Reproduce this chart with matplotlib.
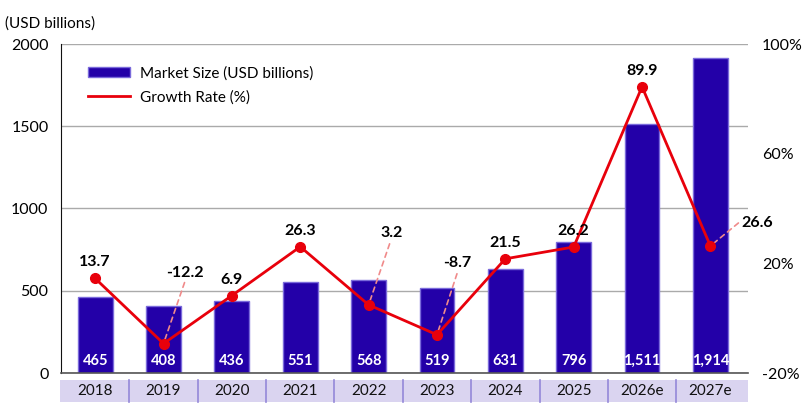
import matplotlib
matplotlib.use("Agg")
import matplotlib.pyplot as plt
import matplotlib.transforms as mtransforms
from matplotlib.patches import Rectangle
from matplotlib.lines import Line2D
import numpy as np

plt.rcParams['font.family'] = ['Lato', 'DejaVu Sans']

years = ['2018', '2019', '2020', '2021', '2022', '2023', '2024', '2025', '2026e', '2027e']
market_size = [465, 408, 436, 551, 568, 519, 631, 796, 1511, 1914]
size_labels = ['465', '408', '436', '551', '568', '519', '631', '796', '1,511', '1,914']
growth = [13.7, -12.2, 6.9, 26.3, 3.2, -8.7, 21.5, 26.2, 89.9, 26.6]
left_ticks = [0, 500, 1000, 1500, 2000]
right_tick_labels = ['-20%', '20%', '60%', '100%']

BAR = '#2300A8'
BAR_EDGE = '#7A6ADB'
RED = '#E8000B'
LEADER = '#F08A8A'

fig = plt.figure(figsize=(8.09, 4.11), dpi=100)
ax = fig.add_axes([61/809, 1-373/411, (748-61)/809, 329/411])
ax2 = ax.twinx()

x = np.arange(len(years))
ax.bar(x, market_size, width=0.51, color=BAR, edgecolor=BAR_EDGE, linewidth=1,
       label='Market Size (USD billions)', zorder=2)
ax.set_xlim(-0.5, 9.55)
ax.set_ylim(0, 2000)
ax.set_yticks(left_ticks)
ax.set_yticklabels([str(t) for t in left_ticks], fontsize=11.5)
ax.tick_params(axis='y', length=0, pad=9)
ax.set_xticks([])
ax.grid(axis='y', color='#AAAAAA', linewidth=1, zorder=0)
ax.set_axisbelow(True)
for s in ['top', 'right']:
    ax.spines[s].set_visible(False)
ax.spines['left'].set_color('#111111')
ax.spines['bottom'].set_color('#555555')
ax.spines['bottom'].set_linewidth(1.2)

for xi, lab in zip(x, size_labels):
    ax.annotate(lab, (xi, 0), xytext=(0, 12), textcoords='offset pixels',
                ha='center', va='center', color='white', fontsize=10.5,
                fontweight='bold', zorder=5)

# right axis
ax2.plot(x, growth, color=RED, linewidth=2, marker='o', markersize=7,
         label='Growth Rate (%)', zorder=4)
lo, hi = -23.9, 106.9
ax2.set_ylim(lo, hi)
ax2.set_yticks(np.linspace(lo, hi, 4))
ax2.set_yticklabels(right_tick_labels, fontsize=11.5)
ax2.tick_params(axis='y', length=0, pad=10)
for s in ['top', 'right', 'left', 'bottom']:
    ax2.spines[s].set_visible(False)

# growth labels: (line end offset, label offset, ha)
leader = {1: ((21, 61), (21, 71), 'center'),
          4: ((21, 61), (23, 72), 'center'),
          5: ((20, 61), (20, 72), 'center'),
          9: ((28, 23), (31, 23), 'left')}
for i, g in enumerate(growth):
    txt = f'{g}'
    if i in leader:
        (ex, ey), (tx, ty), ha = leader[i]
        ax2.annotate('', (x[i], g), xytext=(ex, ey), textcoords='offset pixels',
                     arrowprops=dict(arrowstyle='-', color=LEADER, linestyle=(0, (3, 2.5)),
                                     linewidth=1.2, shrinkA=0, shrinkB=0), zorder=3)
        ax2.annotate(txt, (x[i], g), xytext=(tx, ty), textcoords='offset pixels',
                     ha=ha, va='center', fontsize=11.5, fontweight='bold', zorder=6)
    else:
        ax2.annotate(txt, (x[i], g), xytext=(0, 16), textcoords='offset pixels',
                     ha='center', va='center', fontsize=11.5, fontweight='bold', zorder=6)

# category band
trans = mtransforms.blended_transform_factory(ax.transData, ax.transAxes)
y0 = (373-402)/329
h = (402-380)/329
ax.add_patch(Rectangle((-0.52, y0), 10.07, h, transform=trans, facecolor='#DAD4F0',
                       edgecolor='none', clip_on=False, zorder=1))
for b in np.arange(0.5, 9, 1):
    ax.plot([b, b], [y0, y0+h], transform=trans, color='#9488D8', linewidth=1.2,
            clip_on=False, zorder=2)
for xi, yr in zip(x, years):
    ax.text(xi, y0+h/2, yr, transform=trans, ha='center', va='center', fontsize=11,
            color='#111111', zorder=3)

fig.text(5/809, 1-24/411, '(USD billions)', fontsize=11, ha='left', va='center')

h1, l1 = ax.get_legend_handles_labels()
h2 = [Line2D([0], [0], color=RED, linewidth=2)]
l2 = ['Growth Rate (%)']
leg = ax2.legend(h1 + h2, l1 + l2, loc='upper left', bbox_to_anchor=(0.02, 0.975),
                 frameon=False, fontsize=11, handlelength=2.7, handleheight=0.6,
                 handletextpad=0.7, labelspacing=0.65)

fig.savefig('out.png', dpi=100)
